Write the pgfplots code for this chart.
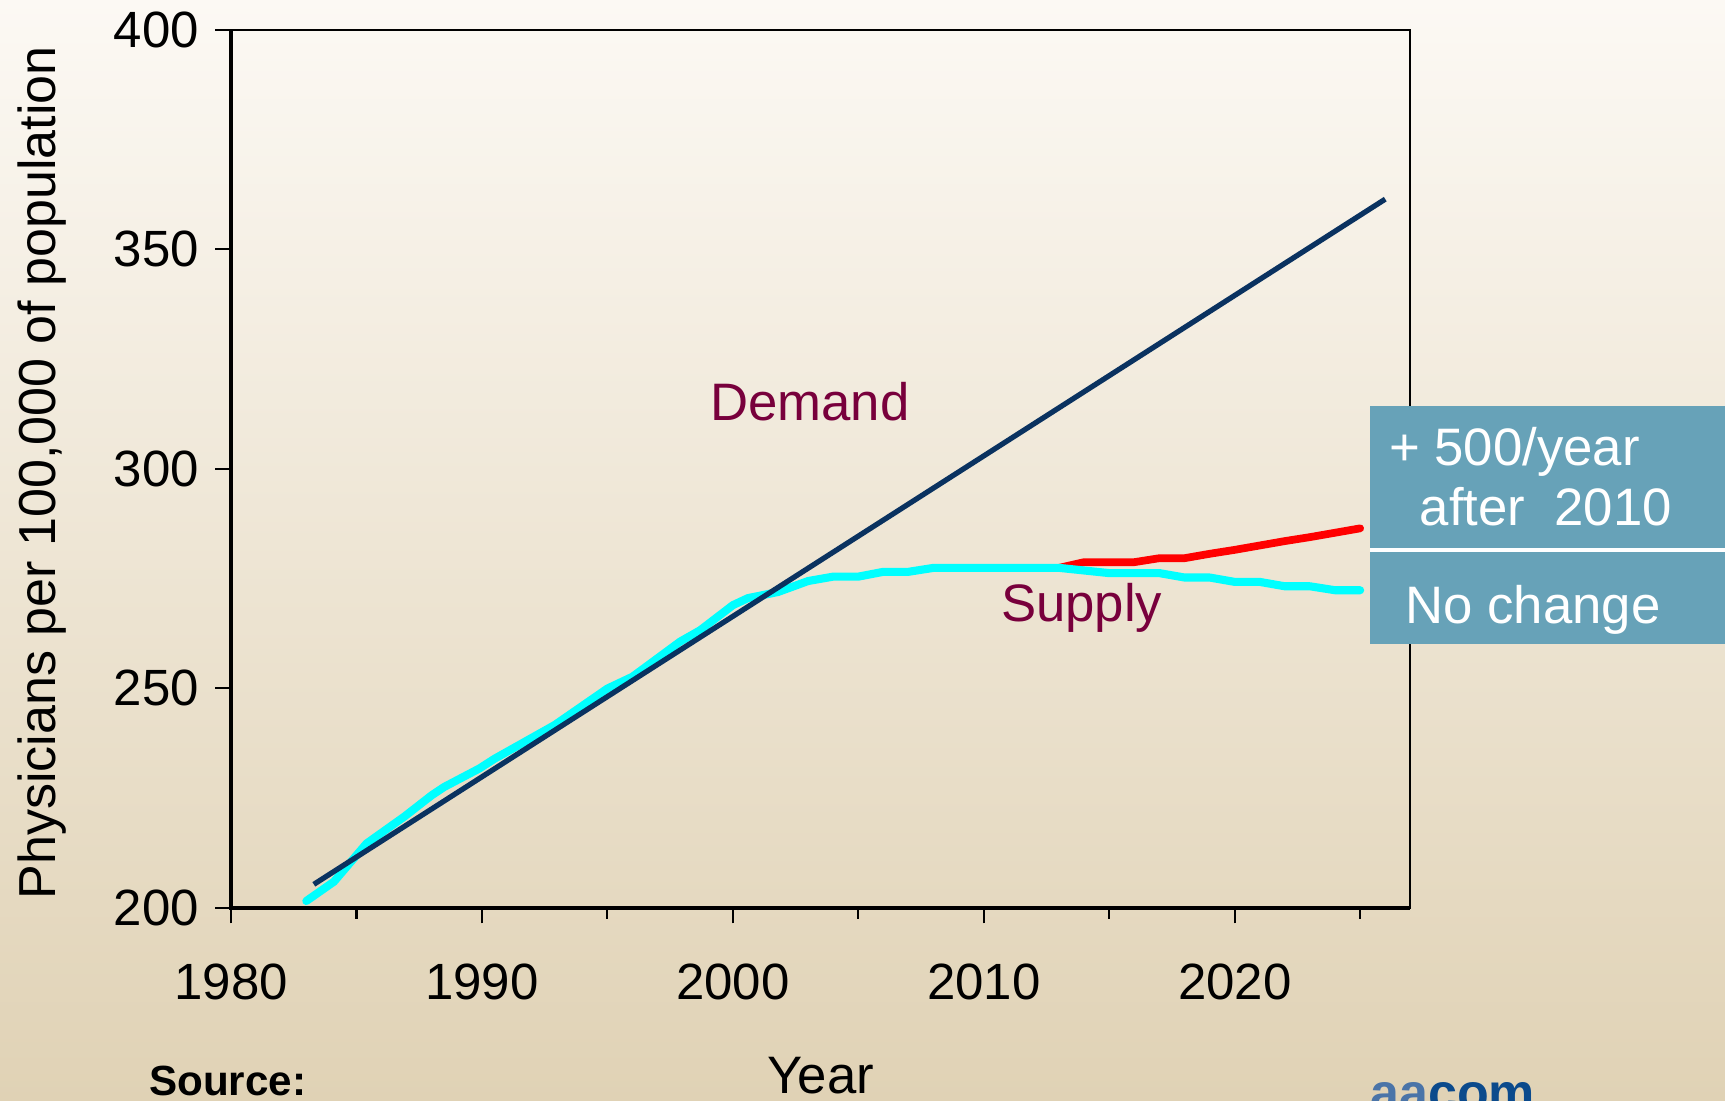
\documentclass[border=0pt]{standalone}
\usepackage{pgfplots}
\pgfplotsset{compat=1.18}
\usepackage{fontspec}
\setmainfont{Liberation Sans}

\definecolor{bgtop}{RGB}{252,249,244}
\definecolor{bgbot}{RGB}{224,210,181}
\definecolor{demandblue}{RGB}{10,50,96}
\definecolor{supplycyan}{RGB}{0,255,255}
\definecolor{plusred}{RGB}{255,0,0}
\definecolor{maroon}{RGB}{120,0,60}
\definecolor{boxteal}{RGB}{103,162,184}
\definecolor{logolight}{RGB}{74,116,168}
\definecolor{logodark}{RGB}{11,74,140}

\begin{document}
\begin{tikzpicture}[x=1cm,y=1cm]
% page frame, cut at the bottom like the slide
\path[use as bounding box, clip] (-2.31,-1.925) rectangle (14.938,9.075);
\shade[top color=bgtop, bottom color=bgbot] (-2.31,-1.925) rectangle (14.938,9.075);

\begin{axis}[
    at={(0,0)}, anchor=south west,
    scale only axis,
    width=11.792cm, height=8.778cm,
    xmin=1980, xmax=2027,
    ymin=200, ymax=400,
    xtick={1980,1990,...,2020},
    minor xtick={1985,1995,...,2025},
    ytick={200,250,...,400},
    xtick pos=bottom, ytick pos=left,
    tick align=outside,
    major tick length=0.157cm,
    minor tick length=0.113cm,
    tick style={black, line width=0.6pt},
    axis line style={black, line width=0.6pt},
    /pgf/number format/1000 sep={},
    /pgf/number format/assume math mode=true,
    tick label style={font=\fontsize{14.5}{17}\selectfont},
    xticklabel style={yshift=-0.28cm},
    yticklabel style={xshift=-0.04cm},
    xlabel={Year},
    xlabel style={at={(rel axis cs:0.5,0)}, anchor=base, yshift=-1.859cm,
        font=\fontsize{15}{18}\selectfont},
    ylabel={Physicians per 100,000 of population},
    ylabel style={at={(rel axis cs:0,0.5)}, anchor=center,
        yshift=1.885cm, xshift=-0.04cm, font=\fontsize{14.8}{18}\selectfont},
    clip=false,
]
% +500 per year after 2010
\addplot[plusred, line width=2.2pt, line join=round, line cap=round] coordinates {
    (2013.0,277.4) (2014.0,278.7) (2016.0,278.7) (2017.0,279.6) (2018.0,279.6)
    (2019.0,280.6) (2020.0,281.5) (2021.0,282.5) (2022.0,283.5) (2023.0,284.4)
    (2024.0,285.4) (2025.0,286.4)
};
% supply, no change
\addplot[supplycyan, line width=2.3pt, line join=round, line cap=round] coordinates {
    (1983.0,201.5) (1984.1,205.9) (1985.4,214.6) (1986.9,220.7) (1988.0,225.6)
    (1988.5,227.5) (1989.9,231.7) (1990.5,233.9) (1992.9,241.6) (1995.0,249.9)
    (1996.0,252.6) (1997.9,260.6) (1998.7,263.2) (2000.0,268.9) (2000.6,270.5)
    (2001.8,271.9) (2003.0,274.4) (2004.0,275.4) (2005.0,275.4) (2006.0,276.5)
    (2007.0,276.5) (2008.0,277.4) (2013.0,277.4) (2015.0,276.2) (2017.0,276.2)
    (2018.0,275.2) (2019.0,275.2) (2020.0,274.2) (2021.0,274.2) (2022.0,273.2)
    (2023.0,273.2) (2024.0,272.3) (2025.0,272.3)
};
% demand
\addplot[demandblue, line width=1.5pt] coordinates {
    (1983.3,205.3) (2026.0,361.4)
};
\node[maroon, font=\fontsize{15}{18}\selectfont] at (axis cs:2003.07,315.3) {Demand};
\node[maroon, font=\fontsize{15}{18}\selectfont] at (axis cs:2013.9,268.2) {Supply};
\end{axis}

% heavier left and bottom axis lines
\draw[black, line width=1.1pt] (0,8.778) -- (0,0) -- (11.792,0);

% scenario box
\fill[boxteal] (11.385,2.64) rectangle (15.2,5.016);
\draw[white, line width=1.3pt] (11.385,3.575) -- (15.2,3.575);
\node[white, anchor=base west, inner sep=0pt, font=\fontsize{15}{18}\selectfont]
    at (11.572,4.422) {+ 500/year};
\node[white, anchor=base west, inner sep=0pt, font=\fontsize{15}{18}\selectfont]
    at (11.88,3.817) {after\ \ 2010};
\node[white, anchor=base west, inner sep=0pt, font=\fontsize{15}{18}\selectfont]
    at (11.737,2.838) {No change};

% footer
\node[black, anchor=base west, inner sep=0pt, font=\bfseries\fontsize{12}{14}\selectfont]
    at (-0.825,-1.881) {Source:};
\node[anchor=base west, inner sep=0pt, font=\bfseries\fontsize{14.8}{17}\selectfont]
    at (11.385,-2.03) {\textcolor{logolight}{aa}\textcolor{logodark}{com}};
\end{tikzpicture}
\end{document}
